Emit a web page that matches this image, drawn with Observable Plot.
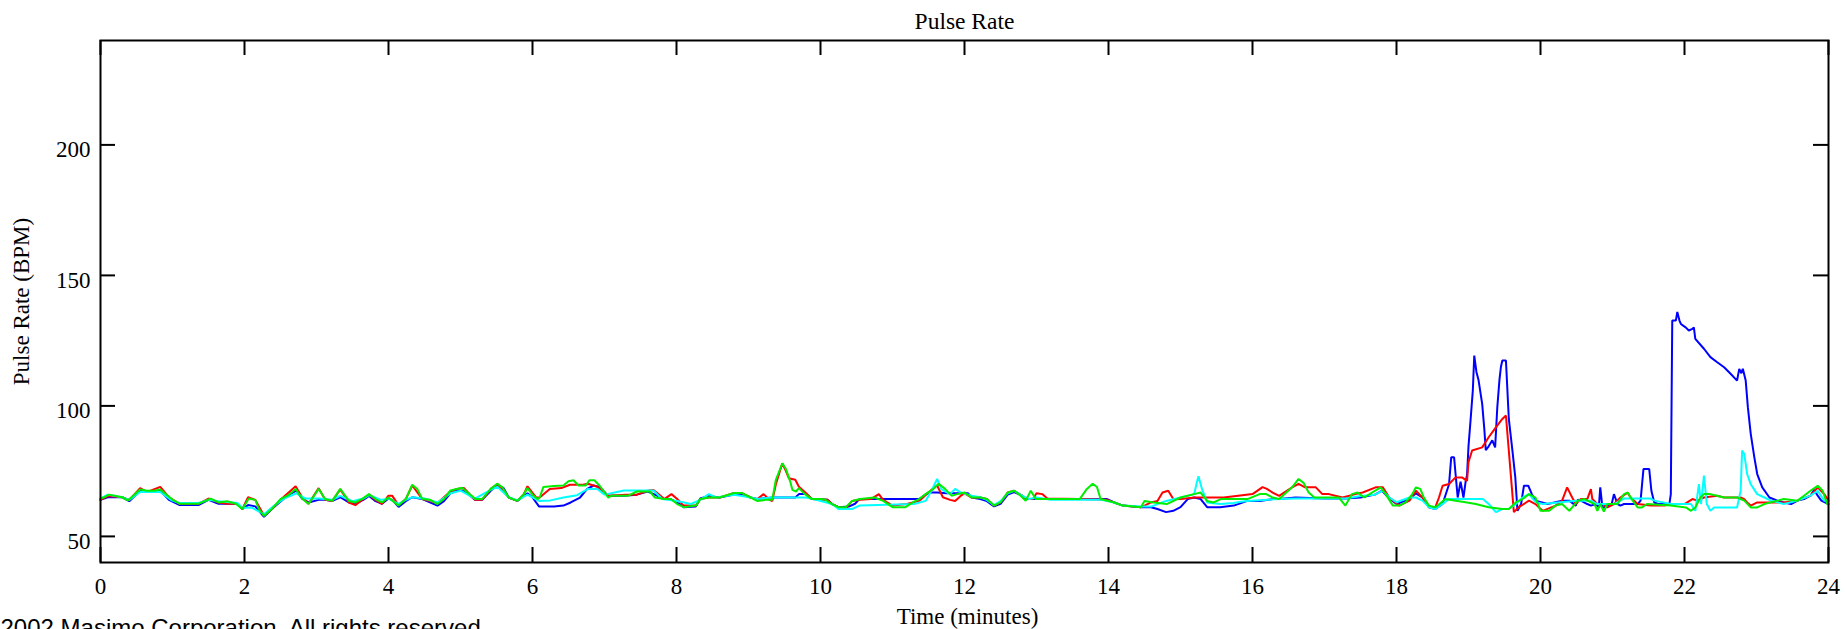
<!DOCTYPE html>
<html>
<head>
<meta charset="utf-8">
<script src="https://cdn.jsdelivr.net/npm/d3@7"></script>
<script src="https://cdn.jsdelivr.net/npm/@observablehq/plot@0.6"></script>
<style>
  html, body { margin: 0; padding: 0; background: #fff; overflow: hidden; }
</style>
</head>
<body>
<div id="chart"></div>
<script>
const chartTitle = "Pulse Rate";
const xLabel = "Time (minutes)";
const yLabel = "Pulse Rate (BPM)";
const footer = "2002 Masimo Corporation. All rights reserved.";
const xTicks = [0, 2, 4, 6, 8, 10, 12, 14, 16, 18, 20, 22, 24];
const yTicks = [50, 100, 150, 200];

// [minutes, BPM]
const blue = [
[0,64],[0.1,65],[0.3,65],[0.4,63.5],[0.55,67.5],[0.7,67],[0.83,67.5],[0.95,64],[1.1,62],[1.36,62],[1.5,64],[1.64,62.5],[1.76,62.5],[1.9,62.5],[1.97,60.5],[2.05,62],[2.15,61.5],[2.27,57.5],[2.4,61],[2.55,64.5],[2.65,66.5],[2.72,67.5],[2.8,64.5],[2.89,63],[3.03,64],[3.12,64],[3.22,63.6],[3.33,65],[3.45,63],[3.54,62.5],[3.65,64],[3.73,65.5],[3.82,63.5],[3.91,62.5],[4.0,64.5],[4.05,64],[4.14,61.3],[4.24,63.5],[4.33,65],[4.47,64.3],[4.68,61.8],[4.77,63.5],[4.86,66.5],[4.95,67.5],[5.05,67.5],[5.2,64],[5.3,64],[5.42,67.5],[5.51,69.5],[5.6,68.5],[5.67,64.9],[5.79,63.6],[5.88,65.5],[5.93,66.5],[6.0,64.9],[6.09,61.5],[6.3,61.5],[6.43,61.8],[6.53,63],[6.66,64.9],[6.76,68.2],[6.85,69.5],[6.93,68.9],[7.05,65.6],[7.27,65.6],[7.45,66],[7.6,67.2],[7.7,66],[7.83,64.3],[7.92,64.3],[8.01,63],[8.1,61.2],[8.27,61.5],[8.33,64.5],[8.45,65.5],[8.6,64.9],[8.8,66],[8.91,66],[9.03,64.9],[9.12,64.3],[9.33,64.9],[9.65,64.9],[9.7,66.2],[9.8,66.2],[9.88,64.3],[10.1,64],[10.16,62.4],[10.25,61.2],[10.4,61.5],[10.48,62.5],[10.54,64.3],[11.37,64.3],[11.5,66.8],[11.62,66.8],[11.75,66.5],[11.9,66.5],[12.05,66.5],[12.1,64.9],[12.22,64.3],[12.31,63.5],[12.41,61.5],[12.5,62.5],[12.6,66],[12.69,67],[12.8,65.6],[12.85,64.3],[13.98,64.3],[14.08,63],[14.2,61.8],[14.45,61.2],[14.59,61.2],[14.68,60.5],[14.8,59.3],[14.9,59.8],[15.0,61.2],[15.1,64.3],[15.19,64.9],[15.28,64.3],[15.37,61.2],[15.55,61.2],[15.74,61.8],[15.93,63.6],[16.1,63.6],[16.28,64.3],[16.37,64.3],[16.6,64.9],[17.0,64.5],[17.3,64.5],[17.5,64.9],[17.7,66],[17.8,67.5],[17.9,64.5],[18.0,62.4],[18.18,64.3],[18.27,66.5],[18.36,64.9],[18.45,61.2],[18.54,60.5],[18.64,62.4],[18.73,70],[18.76,80.3],[18.8,80.3],[18.82,74],[18.85,64.9],[18.89,71],[18.93,64.9],[18.96,71],[18.98,73.5],[19.0,84.5],[19.03,95],[19.06,105.9],[19.08,119.3],[19.11,113],[19.14,109.8],[19.19,100.8],[19.22,91],[19.24,83],[19.28,84.5],[19.33,86.8],[19.37,84.1],[19.4,99.5],[19.43,110],[19.45,114.9],[19.47,117.4],[19.52,117.4],[19.56,95],[19.61,82.9],[19.65,72.6],[19.68,59.8],[19.73,62.4],[19.77,69.4],[19.83,69.4],[19.88,66.2],[19.93,63.7],[20.1,62.4],[20.3,63.7],[20.4,63.7],[20.49,61.8],[20.52,64.1],[20.56,63.7],[20.65,62.4],[20.7,61.8],[20.77,62.4],[20.81,61.1],[20.83,68.8],[20.86,61.1],[20.88,61.1],[20.99,62.5],[21.02,66.2],[21.07,62.4],[21.11,61.8],[21.16,62.4],[21.35,62.4],[21.39,63.7],[21.43,75.8],[21.51,75.8],[21.54,67.5],[21.58,63],[21.63,62.4],[21.79,62.4],[21.81,66.2],[21.83,132.7],[21.88,132.7],[21.9,136],[21.93,132.7],[21.95,131.4],[22.02,130],[22.06,128.9],[22.11,129.5],[22.13,130.1],[22.15,125.7],[22.27,121.9],[22.36,118.7],[22.45,116.8],[22.55,114.8],[22.64,112.3],[22.73,109.7],[22.76,114.2],[22.79,112.5],[22.81,114.2],[22.85,109.7],[22.88,99.5],[22.92,89.3],[22.97,80.3],[23.01,73.9],[23.08,68.8],[23.18,64.9],[23.29,63.7],[23.38,63],[23.48,62.4],[23.57,63.7],[23.66,64.3],[23.75,65.6],[23.8,67.9],[23.85,65.6],[23.9,63.7],[24.0,62.4]
];

const red = [
[0,64],[0.1,65.5],[0.3,65],[0.4,64],[0.55,68.5],[0.65,67],[0.83,69],[0.95,65],[1.1,62.5],[1.36,62.5],[1.5,64.5],[1.64,63],[1.76,62.5],[1.9,62.5],[1.97,60.5],[2.05,65],[2.15,64],[2.27,58],[2.4,61],[2.5,64],[2.71,69.2],[2.8,65],[2.89,62.5],[3.03,68.5],[3.12,64],[3.22,63.6],[3.33,68],[3.45,63],[3.54,62],[3.65,64.3],[3.73,66],[3.82,64],[3.91,62.5],[4.0,65.6],[4.05,65.6],[4.14,62],[4.24,64.3],[4.33,69.5],[4.47,64.3],[4.68,62.8],[4.86,67.2],[4.95,68.2],[5.05,68.5],[5.2,64],[5.3,64],[5.42,68.2],[5.51,70],[5.67,64.9],[5.79,63.6],[5.88,66.2],[5.93,69.2],[6.05,65],[6.1,64.9],[6.24,68.2],[6.4,68.5],[6.52,69.8],[6.7,69.8],[6.77,70.2],[6.9,69],[6.98,67],[7.05,65.6],[7.3,66],[7.45,66],[7.6,67.5],[7.68,67.8],[7.75,66.2],[7.83,64.3],[7.93,66.2],[8.01,64.3],[8.1,61.8],[8.27,61.8],[8.33,64.3],[8.45,64.9],[8.6,64.9],[8.8,66.6],[8.91,66.6],[9.03,64.9],[9.12,64.2],[9.21,66.2],[9.28,64.3],[9.33,63.5],[9.38,70],[9.47,78],[9.52,75],[9.56,72.3],[9.65,71.7],[9.7,69],[9.79,66.8],[9.88,64.3],[10.1,64],[10.16,62.4],[10.25,61.2],[10.35,60.8],[10.44,63.6],[10.55,64],[10.7,64.3],[10.81,66.2],[10.87,64],[11.0,61.8],[11.2,62.4],[11.37,63.6],[11.5,66.8],[11.57,68.5],[11.62,69.5],[11.7,65],[11.8,64],[11.87,63.6],[11.95,65.6],[12.0,66.5],[12.1,64.9],[12.22,64.9],[12.31,64.3],[12.41,61.8],[12.5,63],[12.6,66.8],[12.69,67.5],[12.8,65.6],[12.85,64.3],[12.95,64.3],[13.0,66.5],[13.08,66.2],[13.15,64.5],[13.6,64.3],[13.98,64],[14.08,63],[14.2,61.8],[14.45,61.2],[14.5,61.8],[14.59,63],[14.68,63.6],[14.75,66.8],[14.83,67.5],[14.9,64.3],[15.0,64.3],[15.2,64.9],[15.4,64.9],[15.6,64.9],[16.0,66.2],[16.14,68.9],[16.2,68.2],[16.28,66.8],[16.37,65.5],[16.55,68.8],[16.64,70.1],[16.73,68.8],[16.88,68.8],[16.97,66.2],[17.06,66.2],[17.25,64.9],[17.43,66.2],[17.53,66.8],[17.71,68.8],[17.81,68.8],[17.9,64.9],[18.04,61.8],[18.18,63.7],[18.27,67.5],[18.36,64.9],[18.45,61.2],[18.54,61.2],[18.59,64.9],[18.64,69.4],[18.73,70.1],[18.82,72.6],[18.91,72.6],[18.98,71.3],[19.0,78.4],[19.05,82.9],[19.19,84.1],[19.28,88],[19.38,91.8],[19.47,95],[19.52,96.3],[19.63,59.3],[19.7,61.2],[19.84,63.7],[19.93,62.4],[20.03,59.8],[20.21,61.8],[20.3,63.7],[20.37,68.8],[20.44,64.9],[20.49,62.4],[20.56,64.3],[20.65,64.3],[20.7,68.1],[20.72,64.3],[20.79,62.4],[20.86,62.4],[20.93,61.1],[21.02,62.4],[21.11,64.9],[21.21,66.8],[21.25,64.9],[21.35,62.4],[21.53,61.8],[21.72,61.8],[21.81,62.4],[22.0,62.4],[22.11,64.3],[22.18,63.7],[22.27,64.9],[22.45,65.6],[22.55,64.9],[22.78,64.9],[22.83,64.3],[22.87,63],[22.92,61.8],[23.01,63],[23.38,63],[23.57,63.7],[23.75,65.6],[23.85,68.8],[23.94,66.2],[24.0,63.7]
];

const cyan = [
[0,64.5],[0.1,66],[0.3,65],[0.4,64],[0.55,67],[0.7,67],[0.83,67],[0.99,63.8],[1.1,62.8],[1.36,62.8],[1.5,64],[1.64,63.5],[1.9,62.8],[1.97,61],[2.1,61],[2.27,58.5],[2.4,61.5],[2.55,64.5],[2.72,66.5],[2.85,64.5],[3.03,64.5],[3.22,64],[3.33,65.5],[3.5,63.5],[3.65,64.5],[3.73,65.8],[3.9,64],[4.0,64.5],[4.14,62.5],[4.24,64],[4.33,65],[4.5,64.5],[4.68,63],[4.86,66.5],[5.0,67.5],[5.2,64.5],[5.42,67.8],[5.51,69],[5.67,65],[5.79,63.8],[5.93,66],[6.09,63.6],[6.25,63.8],[6.43,64.9],[6.62,65.8],[6.77,68.2],[6.9,68.2],[7.0,66],[7.27,67.6],[7.5,67.6],[7.68,67.6],[7.8,64.3],[8.01,63.6],[8.2,62.4],[8.33,64],[8.45,66.2],[8.55,64.9],[8.8,66],[8.91,65.5],[9.03,64.9],[9.12,64.3],[9.33,64.9],[9.65,64.9],[9.8,64.9],[9.9,64.3],[10.16,62.4],[10.25,60.5],[10.44,60.5],[10.54,61.8],[11.3,62.4],[11.46,63.6],[11.55,68],[11.62,72],[11.68,68],[11.8,66.2],[11.87,68.2],[11.95,66.8],[12.1,65.6],[12.22,65],[12.31,64],[12.41,62],[12.5,63.5],[12.6,66.5],[12.69,67.5],[12.8,65.6],[12.9,64.3],[13.0,64.9],[13.2,64],[13.9,64],[14.08,63],[14.2,61.8],[14.45,61.5],[14.6,61.5],[14.8,63.6],[15.0,64.9],[15.19,66.2],[15.23,71],[15.25,73],[15.3,68],[15.37,63],[15.55,62.4],[15.74,62.8],[15.84,63.3],[15.93,63.6],[16.37,64.3],[16.6,64.5],[17.3,64.5],[17.5,65.5],[17.7,66],[17.81,67.5],[17.9,64.9],[18.0,63.1],[18.18,64.9],[18.27,64.9],[18.36,63.7],[18.45,61.2],[18.54,60.5],[18.64,62.4],[18.73,64.3],[19.2,64.3],[19.28,62.4],[19.38,59.3],[19.47,60.5],[19.56,60.5],[19.66,62.4],[19.75,64.9],[19.84,66.2],[19.93,63.2],[20.03,62.4],[20.5,63.7],[20.7,63.7],[20.79,62.4],[21.02,62.4],[21.16,64.5],[21.53,64.5],[21.58,63.7],[21.81,62.4],[22.09,62.4],[22.15,59.8],[22.2,70],[22.23,62.4],[22.27,73.3],[22.31,62.4],[22.36,59.8],[22.41,61.1],[22.73,61.1],[22.78,67.5],[22.8,82.9],[22.83,81.6],[22.87,73.9],[22.92,70],[23.01,66.2],[23.11,64.9],[23.2,63.7],[23.38,62.4],[23.57,63.7],[23.75,65.6],[23.85,67.5],[23.94,63.7],[24.0,63.7]
];

const green = [
[0,64.5],[0.05,65],[0.12,66],[0.3,65],[0.38,63.8],[0.45,65.5],[0.55,68],[0.65,67.5],[0.75,67.5],[0.83,68],[0.99,64.3],[1.1,62.5],[1.36,62.5],[1.46,63.6],[1.53,64.5],[1.64,63],[1.76,63.5],[1.88,62.5],[1.97,60.5],[2.06,64.5],[2.15,64],[2.2,60.5],[2.27,57.8],[2.38,60.5],[2.5,64.3],[2.6,65.6],[2.71,68.2],[2.8,64.5],[2.89,62.4],[3.03,68.2],[3.12,64.3],[3.22,63.6],[3.33,68.2],[3.45,63.6],[3.54,63],[3.63,64.3],[3.73,66.2],[3.82,64.3],[3.91,63],[4.0,64.9],[4.14,61.8],[4.24,64.3],[4.33,69.8],[4.4,68.2],[4.47,64.3],[4.58,64],[4.68,62.4],[4.77,64.3],[4.86,67.6],[4.95,68.2],[5.02,68.6],[5.1,66.8],[5.21,64.3],[5.3,64.3],[5.42,68.2],[5.51,70.2],[5.58,68.9],[5.67,64.9],[5.79,63.6],[5.88,66.2],[5.93,68.5],[6.0,66],[6.07,64.3],[6.1,64.9],[6.15,68.9],[6.3,69.3],[6.43,69.5],[6.5,71.1],[6.57,71.5],[6.64,69.5],[6.74,69.5],[6.79,71.5],[6.86,71.5],[6.93,69.5],[7.0,67],[7.05,64.9],[7.1,65.6],[7.33,65.6],[7.45,67.2],[7.63,67.2],[7.7,64.9],[7.83,64.3],[7.92,64.3],[8.01,62.4],[8.1,61.2],[8.27,61.8],[8.33,64.3],[8.45,64.9],[8.6,64.9],[8.8,66.6],[8.91,66.6],[9.03,64.9],[9.12,63.6],[9.25,64],[9.33,64],[9.38,71.7],[9.47,78],[9.52,75.8],[9.58,71],[9.61,67.8],[9.66,67.2],[9.7,68.5],[9.77,66.5],[9.88,64.3],[10.0,64.3],[10.07,64],[10.16,62.4],[10.25,61.2],[10.35,61.2],[10.44,63.6],[10.55,64.3],[10.75,64.9],[10.87,63.6],[11.0,61.2],[11.18,61.2],[11.28,63],[11.37,64.3],[11.46,66.2],[11.57,68.2],[11.64,70.2],[11.73,68.2],[11.82,65.6],[11.9,66.2],[12.0,66.8],[12.1,64.9],[12.22,64.9],[12.31,64.3],[12.41,61.8],[12.5,63],[12.6,66.8],[12.69,67.5],[12.78,65.6],[12.85,63.6],[12.92,67.5],[12.99,64.3],[13.15,64.3],[13.6,64.3],[13.7,68.2],[13.78,70.2],[13.84,68.9],[13.89,64.3],[14.08,63],[14.2,61.8],[14.45,61.2],[14.5,63.6],[14.63,63],[14.81,62.4],[15.0,64.9],[15.19,66.2],[15.28,66.8],[15.37,63.6],[15.46,63],[15.56,64.3],[15.93,64.3],[16.1,66.2],[16.19,66.2],[16.28,64.9],[16.37,64.3],[16.55,68.8],[16.64,72],[16.71,70.5],[16.78,66.8],[16.86,64.9],[17.2,64.9],[17.29,61.8],[17.38,66.2],[17.46,66.8],[17.55,64.9],[17.71,67.6],[17.78,68.8],[17.85,66.2],[17.95,61.8],[18.04,61.8],[18.13,63.1],[18.22,66.2],[18.27,68.8],[18.33,68.2],[18.38,64.9],[18.45,61.8],[18.54,61.2],[18.68,64.3],[18.82,63.7],[18.96,63.1],[19.1,62.4],[19.28,61.2],[19.47,60.5],[19.56,60.5],[19.66,63.1],[19.75,64.3],[19.84,66.2],[19.93,64.9],[20.0,59.8],[20.12,59.8],[20.21,61.8],[20.3,62.4],[20.4,59.8],[20.52,63.7],[20.61,64.3],[20.75,62.4],[20.79,59.8],[20.83,62.4],[20.88,59.5],[20.93,62.4],[21.07,62.4],[21.16,66.2],[21.21,66.8],[21.28,63.7],[21.35,61.1],[21.41,61.1],[21.48,62.4],[21.81,61.8],[22.02,61.1],[22.09,59.8],[22.15,61.1],[22.22,64.9],[22.27,66.2],[22.36,66.2],[22.45,65.6],[22.55,64.9],[22.73,64.9],[22.83,63.7],[22.92,61.1],[23.01,61.1],[23.11,62.4],[23.29,63.7],[23.38,64.3],[23.57,63.7],[23.66,65.6],[23.75,67.5],[23.85,69.4],[23.92,67.5],[23.98,62.4],[24.0,62.4]
];

const W = 1846, H = 629;
const mL = 100, mR = 18, mT = 40, mB = 67;
const innerW = W - mL - mR, innerH = H - mT - mB;
const tickLen = 15;
const serif = "'Liberation Serif', 'Times New Roman', Times, serif";

const lineOpts = {x: d => d[0], y: d => d[1], strokeWidth: 2, strokeLinejoin: "miter"};

const chart = Plot.plot({
  width: W,
  height: H,
  marginLeft: mL,
  marginRight: mR,
  marginTop: mT,
  marginBottom: mB,
  style: {fontFamily: serif, fontSize: "23px", background: "white", color: "black", overflow: "visible"},
  x: {domain: [0, 24]},
  y: {domain: [40, 240]},
  marks: [
    Plot.line(blue, {...lineOpts, stroke: "#0000ff"}),
    Plot.line(red, {...lineOpts, stroke: "#ff0000"}),
    Plot.line(cyan, {...lineOpts, stroke: "#00ffff"}),
    Plot.line(green, {...lineOpts, stroke: "#00ee00"}),
    // inward ticks
    Plot.tickX(xTicks, {x: d => d, stroke: "black", strokeWidth: 2, insetBottom: innerH - tickLen}),
    Plot.tickX(xTicks, {x: d => d, stroke: "black", strokeWidth: 2, insetTop: innerH - tickLen}),
    Plot.tickY(yTicks, {y: d => d, stroke: "black", strokeWidth: 2, insetRight: innerW - tickLen}),
    Plot.tickY(yTicks, {y: d => d, stroke: "black", strokeWidth: 2, insetLeft: innerW - tickLen}),
    Plot.frame({stroke: "black", strokeWidth: 2}),
    Plot.axisX({ticks: xTicks, tickSize: 0, tickPadding: 15, label: null, tickFormat: d => String(d), fontSize: 23}),
    Plot.axisY({ticks: yTicks, tickSize: 0, tickPadding: 10, label: null, tickFormat: d => String(d), fontSize: 23, dy: 5}),
    Plot.text([chartTitle], {frameAnchor: "top", lineAnchor: "middle", textAnchor: "middle", dy: -19.5, text: d => d, fontSize: 23.5}),
    Plot.text([xLabel], {frameAnchor: "bottom", lineAnchor: "middle", textAnchor: "middle", dy: 54, dx: 3, text: d => d, fontSize: 23}),
    Plot.text([yLabel], {frameAnchor: "left", lineAnchor: "middle", textAnchor: "middle", dx: -78.5, rotate: -90, text: d => d, fontSize: 23}),
    Plot.text([footer], {frameAnchor: "bottom-left", lineAnchor: "middle", textAnchor: "start", dx: -mL, dy: 65.5, text: d => d, fontSize: 24, fontFamily: "'Liberation Sans', Arial, sans-serif"})
  ]
});

document.getElementById("chart").appendChild(chart);
</script>
</body>
</html>
